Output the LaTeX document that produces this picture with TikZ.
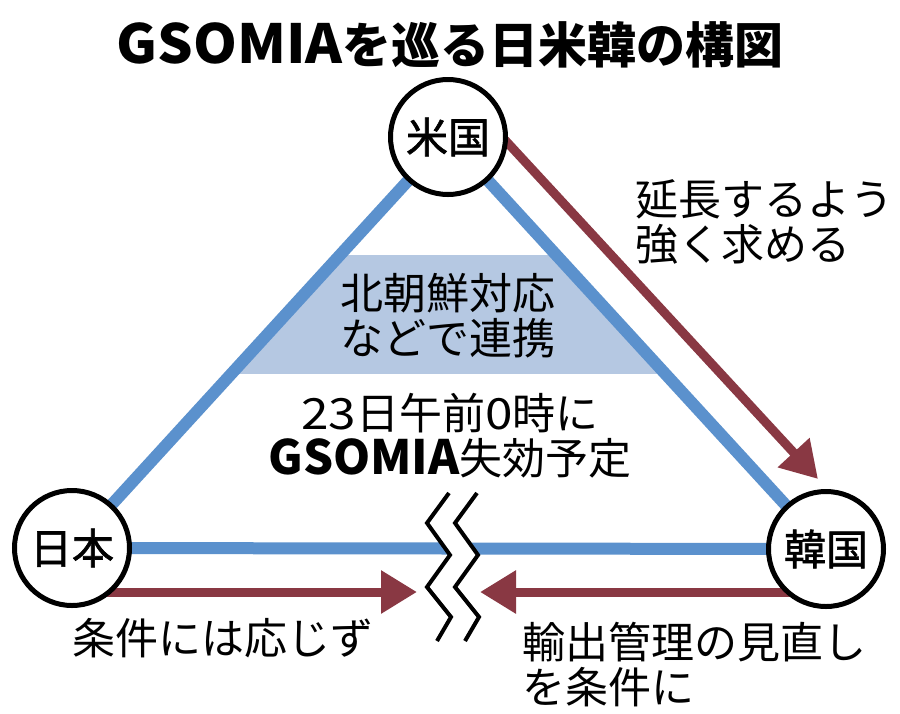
\documentclass[tikz,border=0pt]{standalone}
\usepackage{fontspec}
\setmainfont{Noto Sans CJK JP}
\newfontfamily\lblfont{Noto Sans CJK JP}[FakeBold=1.5]
\usetikzlibrary{arrows.meta,calc}
\definecolor{bl}{HTML}{5B91CD}
\definecolor{blfill}{HTML}{B5C8E2}
\definecolor{mr}{HTML}{893843}
\pgfdeclarelayer{bg}
\pgfsetlayers{bg,main}
\begin{document}
\begin{tikzpicture}[x=1pt,y=-1pt,
  country/.style={circle,draw=black,line width=5pt,fill=white,minimum size=115pt,inner sep=0pt,font=\lblfont\fontsize{42}{42}\selectfont},
  tie/.style={draw=bl,line width=12pt},
  push/.style={draw=mr,line width=9pt,-{Triangle[length=36pt,width=41pt]}},
  txt/.style={inner sep=0pt,font=\fontsize{43}{45}\selectfont},
  zig/.style={draw=black,line width=4pt,line join=miter}
]
\useasboundingbox (0,0) rectangle (900,713);

\node[inner sep=0pt,font=\fontsize{49}{49}\selectfont\bfseries] (title) at (450,45) {\scalebox{1.14}[1.1]{GSOMIA}を巡る日米韓の構図};

\node[country] (us) at (448,137) {米国};
\node[country] (jp) at (72,548) {日本};
\node[country] (kr) at (826,549) {韓国};

\node[txt,anchor=west,align=left] (demand) at (635,222) {延長するよう\\強く求める};
\node[txt,align=center] (coop) at (448,316) {北朝鮮対応\\などで連携};
\node[txt,align=center] (expire) at (450,436) {\scalebox{1.15}[1]{23}日午前\scalebox{1.15}[1]{0}時に\\{\bfseries\scalebox{1.1}{GSOMIA}}失効予定};
\node[txt,anchor=west] (refuse) at (72,638) {条件には応じず};
\node[txt,anchor=west,align=left] (cond) at (522,665) {輸出管理の見直し\\を条件に};

\begin{pgfonlayer}{bg}
  \fill[white] (0,0) rectangle (900,713);
  \begin{scope}
    \clip (jp.center) -- (us.center) -- (kr.center) -- cycle;
    \fill[blfill] (0,255) rectangle (900,374);
  \end{scope}
  \draw[tie] (jp.center) -- (us.center);
  \draw[tie] (us.center) -- (kr.center);
  \draw[tie] (jp.center) -- (kr.center);
  % break mark
  \coordinate (z1) at (449,493);
  \coordinate (z2) at (427,523);
  \coordinate (z3) at (450,555);
  \coordinate (z4) at (427,587);
  \coordinate (z5) at (451,617);
  \coordinate (z6) at (437,641);
  \coordinate (w1) at (477,493);
  \coordinate (w2) at (455,523);
  \coordinate (w3) at (478,555);
  \coordinate (w4) at (455,587);
  \coordinate (w5) at (479,617);
  \coordinate (w6) at (465,641);
  \fill[white] (z1) -- (z2) -- (z3) -- (z4) -- (z5) -- (z6) -- (w6) -- (w5) -- (w4) -- (w3) -- (w2) -- (w1) -- cycle;
  \draw[zig] (z1) -- (z2) -- (z3) -- (z4) -- (z5) -- (z6);
  \draw[zig] (w1) -- (w2) -- (w3) -- (w4) -- (w5) -- (w6);
  % arrows
  \coordinate (a1s) at ($(us.center)+(57,3)$);
  \coordinate (a1t) at ($(kr.center)+(-8,-70)$);
  \draw[push] (a1s) -- (a1t);
  \coordinate (a2s) at ($(jp.center)+(20,44)$);
  \coordinate (a2t) at (417,592);
  \draw[push] (a2s) -- (a2t);
  \coordinate (a3s) at ($(kr.center)+(-20,43)$);
  \coordinate (a3t) at (480,592);
  \draw[push] (a3s) -- (a3t);
\end{pgfonlayer}
\end{tikzpicture}
\end{document}
